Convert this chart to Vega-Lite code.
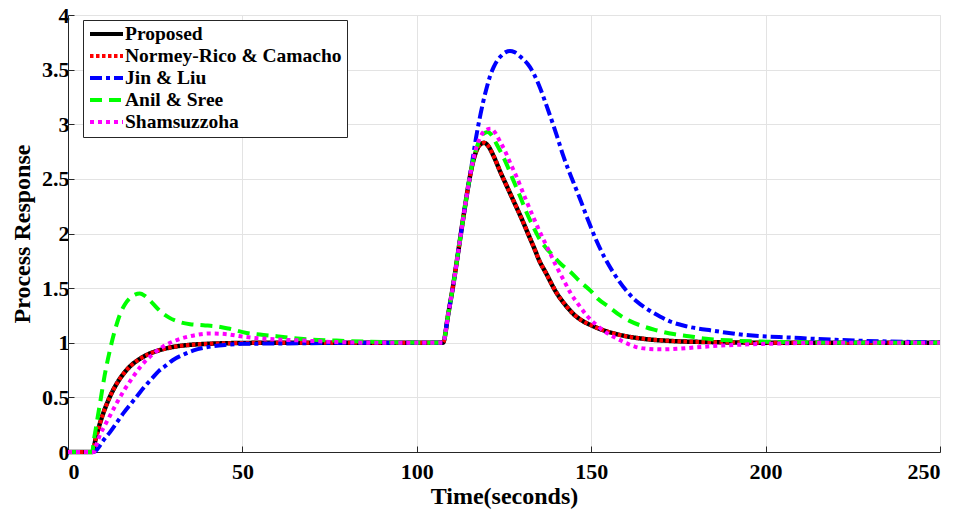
{
  "$schema": "https://vega.github.io/schema/vega-lite/v6.json",
  "width": 872,
  "height": 437,
  "autosize": {"type": "none"},
  "padding": {"left": 68, "top": 15, "right": 20, "bottom": 63},
  "background": "#ffffff",
  "datasets": {
    "P": [[0,0],[7,0],[8,0.13],[9,0.245],[10,0.345],[11,0.43],[12,0.505],[14,0.627],[16,0.72],[18,0.79],[20,0.84],[23,0.895],[26,0.93],[30,0.961],[35,0.981],[40,0.99],[50,0.998],[60,1],[107.5,1],[109,1.26],[110.5,1.54],[112,1.86],[113.5,2.18],[115,2.48],[116,2.64],[117,2.75],[118,2.81],[119.3,2.83],[120.5,2.8],[122,2.71],[124,2.56],[126,2.42],[128,2.28],[130,2.14],[132,1.99],[134,1.84],[135,1.76],[137,1.64],[140,1.46],[143,1.33],[145,1.26],[147.5,1.2],[150,1.16],[153,1.12],[156,1.09],[160,1.06],[164,1.04],[173,1.016],[186,1.005],[200,1],[250,1]],
    "J": [[0,0],[7.5,0],[8.5,0.03],[10,0.1],[12,0.18],[14,0.27],[16,0.36],[18,0.44],[20,0.52],[22,0.6],[24,0.67],[26,0.74],[28,0.79],[30,0.84],[33,0.89],[36,0.93],[40,0.96],[45,0.98],[50,0.99],[60,0.993],[75,0.998],[90,1],[107.5,1],[109,1.26],[110.5,1.54],[112,1.86],[113.5,2.18],[115,2.48],[116,2.68],[117,2.88],[118,3.05],[119,3.2],[120,3.33],[121,3.44],[122,3.52],[123,3.58],[124,3.62],[125.5,3.66],[126.7,3.67],[128,3.66],[130,3.61],[132.5,3.52],[135,3.36],[137.2,3.17],[140,2.91],[142,2.71],[145,2.46],[147,2.3],[149,2.13],[151.3,1.95],[154,1.77],[156.4,1.64],[160,1.48],[163,1.38],[166,1.31],[169.7,1.24],[173,1.19],[177.4,1.15],[185,1.11],[194.6,1.07],[208,1.046],[220,1.027],[235,1.012],[250,1.004]],
    "A": [[0,0],[7,0],[7.3,0.08],[8,0.22],[9.2,0.45],[10.5,0.7],[12,0.93],[13.5,1.12],[14.9,1.26],[16.3,1.35],[17.8,1.41],[19.2,1.44],[20.6,1.45],[22,1.43],[24,1.37],[26.4,1.29],[29,1.23],[32,1.19],[35,1.17],[38.8,1.16],[42.6,1.15],[46,1.13],[51.2,1.09],[55,1.075],[59.8,1.06],[64,1.045],[69.4,1.03],[77,1.02],[85,1.01],[95,1.003],[107.5,1],[109,1.26],[110.5,1.54],[112,1.86],[113.5,2.18],[115,2.48],[116,2.65],[117,2.77],[118,2.86],[119,2.91],[120.3,2.93],[121.5,2.9],[123,2.81],[124.5,2.72],[125.8,2.63],[127.5,2.5],[129.6,2.34],[131.5,2.19],[133.4,2.06],[135,1.96],[137,1.87],[139,1.8],[141,1.73],[144,1.65],[146.8,1.56],[150,1.47],[152,1.4],[155,1.33],[158.3,1.25],[161,1.2],[164.9,1.15],[168,1.12],[173.6,1.08],[178,1.06],[182.2,1.04],[190.7,1.02],[200,1.01],[210,1.004],[220,1],[250,1]],
    "S": [[0,0],[7.5,0],[8,0.05],[9.2,0.16],[10.5,0.24],[12,0.33],[14,0.45],[16,0.56],[18.7,0.69],[21,0.79],[24.5,0.9],[27,0.96],[31.2,1.025],[35,1.06],[40.7,1.085],[45,1.08],[50.3,1.055],[55,1.04],[60,1.03],[67.5,1.02],[77,1.006],[90,1],[107.5,1],[109,1.26],[110.5,1.54],[112,1.86],[113.5,2.18],[115,2.48],[116,2.65],[117,2.78],[118,2.87],[119.5,2.94],[121.2,2.96],[122.5,2.92],[123.9,2.84],[125.5,2.74],[127,2.63],[128.6,2.52],[131,2.33],[133.4,2.15],[135.5,2.0],[138.2,1.82],[140,1.7],[142,1.58],[144,1.46],[146.8,1.33],[148.7,1.25],[151.6,1.16],[154.4,1.09],[156.4,1.055],[158.5,1.02],[160.5,0.99],[162.5,0.965],[166,0.945],[170,0.94],[175,0.945],[180,0.958],[189,0.977],[200,0.99],[212,0.998],[225,1],[250,1]]
  },
  "encoding": {
    "x": {"field": "t", "type": "quantitative", "title": "Time(seconds)",
      "scale": {"domain": [0, 250], "nice": false},
      "axis": {"values": [0, 50, 100, 150, 200, 250], "format": "d", "labelPadding": 15, "titlePadding": 2}},
    "y": {"field": "y", "type": "quantitative", "title": "Process Response",
      "scale": {"domain": [0, 4], "nice": false},
      "axis": {"values": [0, 0.5, 1, 1.5, 2, 2.5, 3, 3.5, 4], "format": "~f", "labelPadding": 5, "titlePadding": 7}},
    "color": {"field": "m", "type": "nominal", "sort": null,
      "scale": {"domain": ["Proposed", "Normey-Rico & Camacho", "Jin & Liu", "Anil & Sree", "Shamsuzzoha"],
                "range": ["#000000", "#ff0000", "#0000ff", "#00ff00", "#ff00ff"]},
      "legend": {"orient": "none", "legendX": 15, "legendY": 5, "title": null}},
    "strokeDash": {"field": "m", "type": "nominal", "sort": null,
      "scale": {"domain": ["Proposed", "Normey-Rico & Camacho", "Jin & Liu", "Anil & Sree", "Shamsuzzoha"],
                "range": [[1, 0], [3.5, 2.5], [12, 4, 4, 4], [12, 7], [4, 4]]},
      "legend": {"orient": "none", "legendX": 15, "legendY": 5, "title": null}}
  },
  "layer": [
    {"data": {"name": "P"}, "transform": [{"calculate": "datum[0]", "as": "t"}, {"calculate": "datum[1]", "as": "y"}, {"calculate": "'Proposed'", "as": "m"}], "mark": {"type": "line", "strokeWidth": 4.5, "interpolate": "monotone"}},
    {"data": {"name": "P"}, "transform": [{"calculate": "datum[0]", "as": "t"}, {"calculate": "datum[1]", "as": "y"}, {"calculate": "'Normey-Rico & Camacho'", "as": "m"}], "mark": {"type": "line", "strokeWidth": 4, "interpolate": "monotone"}},
    {"data": {"name": "J"}, "transform": [{"calculate": "datum[0]", "as": "t"}, {"calculate": "datum[1]", "as": "y"}, {"calculate": "'Jin & Liu'", "as": "m"}], "mark": {"type": "line", "strokeWidth": 4, "interpolate": "monotone"}},
    {"data": {"name": "A"}, "transform": [{"calculate": "datum[0]", "as": "t"}, {"calculate": "datum[1]", "as": "y"}, {"calculate": "'Anil & Sree'", "as": "m"}], "mark": {"type": "line", "strokeWidth": 4, "interpolate": "monotone"}},
    {"data": {"name": "S"}, "transform": [{"calculate": "datum[0]", "as": "t"}, {"calculate": "datum[1]", "as": "y"}, {"calculate": "'Shamsuzzoha'", "as": "m"}], "mark": {"type": "line", "strokeWidth": 4, "interpolate": "monotone"}}
  ],
  "config": {
    "view": {"stroke": "#e6e6e6", "strokeWidth": 1},
    "axis": {"labelFont": "Liberation Serif", "labelFontWeight": "bold", "labelFontSize": 22, "labelColor": "#000000",
      "titleFont": "Liberation Serif", "titleFontWeight": "bold", "titleFontSize": 24, "titleColor": "#000000",
      "domainColor": "#262626", "tickColor": "#262626", "gridColor": "#e3e3e3", "grid": true, "tickSize": -6, "domainWidth": 1},
    "legend": {"labelFont": "Liberation Serif", "labelFontWeight": "bold", "labelFontSize": 19.5, "labelColor": "#000000",
      "strokeColor": "#262626", "fillColor": "#ffffff", "padding": 5, "symbolSize": 1089, "symbolStrokeWidth": 4,
      "clipHeight": 18, "rowPadding": 2, "labelOffset": 0, "cornerRadius": 0, "symbolType": "stroke", "labelLimit": 400}
  }
}
